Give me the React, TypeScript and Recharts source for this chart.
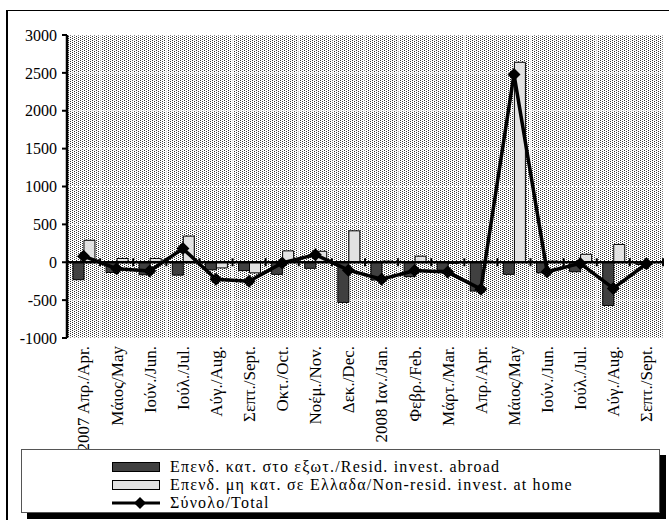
import {
  Bar,
  CartesianGrid,
  ComposedChart,
  Line,
  ReferenceLine,
  XAxis,
  YAxis,
} from "recharts"

const MONTHS = [
  "2007 Απρ./Apr.",
  "Μάιος/May",
  "Ιούν./Jun.",
  "Ιούλ./Jul.",
  "Αύγ./Aug.",
  "Σεπτ./Sept.",
  "Οκτ./Oct.",
  "Νοέμ./Nov.",
  "Δεκ./Dec.",
  "2008 Ιαν./Jan.",
  "Φεβρ./Feb.",
  "Μάρτ./Mar.",
  "Απρ./Apr.",
  "Μάιος/May",
  "Ιούν./Jun.",
  "Ιούλ./Jul.",
  "Αύγ./Aug.",
  "Σεπτ./Sept.",
]

// residents' investment abroad
const ABROAD = [-230, -135, -165, -170, -100, -110, -160, -80, -530, -235, -190, -105, -380, -160, -140, -125, -570, -30]
// non-residents' investment at home
const AT_HOME = [290, 50, 50, 345, -75, -140, 150, 145, 415, 15, 80, -15, 15, 2640, 15, 105, 235, 5]
const TOTAL = [80, -85, -115, 180, -225, -250, -10, 100, -105, -225, -110, -130, -355, 2480, -125, -15, -345, -20]

const Y_TICKS = [-1000, -500, 0, 500, 1000, 1500, 2000, 2500, 3000]

const LEGEND_ABROAD = "Επενδ. κατ. στο εξωτ./Resid. invest. abroad"
const LEGEND_HOME = "Επενδ. μη κατ. σε Ελλαδα/Non-resid. invest. at home"
const LEGEND_TOTAL = "Σύνολο/Total"

const SERIF = "'Liberation Serif', 'Times New Roman', serif"

const data = MONTHS.map((month, i) => ({
  month,
  abroad: ABROAD[i],
  home: AT_HOME[i],
  total: TOTAL[i],
}))

function MonthTick({ x, y, payload }: any) {
  return (
    <text
      x={x}
      y={y}
      transform={`rotate(-90 ${x} ${y})`}
      textAnchor="end"
      dy="0.35em"
      fontFamily={SERIF}
      fontSize={17}
      fill="#000"
    >
      {payload.value}
    </text>
  )
}

// the x axis crosses at zero, with tick marks between the months
function ZeroAxis(props: any) {
  const { x1, y1, x2 } = props
  const n = MONTHS.length
  const step = (x2 - x1) / n
  return (
    <g>
      <line x1={x1} y1={y1} x2={x2} y2={y1} stroke="#000" strokeWidth={2.5} />
      {Array.from({ length: n + 1 }).map((_, i) => (
        <line
          key={i}
          x1={x1 + i * step}
          x2={x1 + i * step}
          y1={y1 - 4}
          y2={y1 + 4}
          stroke="#000"
          strokeWidth={2}
        />
      ))}
    </g>
  )
}

function Diamond({ cx, cy }: any) {
  if (cx == null || cy == null) return null
  const r = 6.5
  return (
    <polygon
      points={`${cx},${cy - r} ${cx + r},${cy} ${cx},${cy + r} ${cx - r},${cy}`}
      fill="#000"
    />
  )
}

function LegendRow({ swatch, label }: { swatch: React.ReactNode; label: string }) {
  return (
    <div style={{ display: "flex", alignItems: "center", height: 18 }}>
      <div style={{ width: 48, marginLeft: 90, marginRight: 10, display: "flex", alignItems: "center" }}>
        {swatch}
      </div>
      <span
        style={{
          fontFamily: SERIF,
          fontSize: 16,
          lineHeight: "18px",
          letterSpacing: 1.2,
          whiteSpace: "nowrap",
        }}
      >
        {label}
      </span>
    </div>
  )
}

export default function App() {
  return (
    <div style={{ position: "absolute", left: 0, top: 0, width: 669, height: 520, overflow: "hidden", background: "#fff" }}>
      <div
        style={{
          position: "absolute",
          left: 6,
          top: 10,
          width: 700,
          height: 600,
          borderTop: "1.5px solid #000",
          borderLeft: "2px solid #000",
        }}
      />
      <ComposedChart
        width={669}
        height={520}
        data={data}
        margin={{ top: 35, right: 6, left: 0, bottom: 72 }}
        barCategoryGap="18%"
        barGap={0}
        style={{ position: "absolute", left: 0, top: 0 }}
      >
        <defs>
          <pattern id="dots" width={4} height={2} patternUnits="userSpaceOnUse">
            <rect width={4} height={2} fill="#fff" />
            <rect x={0} y={0} width={1} height={1} fill="#333" />
            <rect x={2} y={1} width={1} height={1} fill="#333" />
          </pattern>
        </defs>
        <CartesianGrid
          fill="url(#dots)"
          stroke="#fff"
          strokeOpacity={0.8}
          verticalCoordinatesGenerator={({ offset }: any) =>
            Array.from({ length: MONTHS.length + 1 }).map(
              (_, i) => offset.left + (i * offset.width) / MONTHS.length
            )
          }
        />
        <XAxis
          dataKey="month"
          interval={0}
          height={110}
          tickLine={false}
          axisLine={false}
          tick={<MonthTick />}
        />
        <YAxis
          domain={[-1000, 3000]}
          ticks={Y_TICKS}
          width={67}
          tickSize={5}
          tickMargin={5}
          axisLine={{ stroke: "#000", strokeWidth: 2.5 }}
          tickLine={{ stroke: "#000", strokeWidth: 2 }}
          tick={{ fontFamily: SERIF, fontSize: 16, fill: "#000" }}
        />
        <Bar dataKey="abroad" fill="#404040" stroke="#000" strokeWidth={1} isAnimationActive={false} />
        <Bar dataKey="home" fill="#e2e2e2" stroke="#000" strokeWidth={1} isAnimationActive={false} />
        <ReferenceLine y={0} shape={<ZeroAxis />} />
        <Line
          dataKey="total"
          stroke="#000"
          strokeWidth={3.5}
          dot={<Diamond />}
          activeDot={false}
          isAnimationActive={false}
        />
      </ComposedChart>

      <div
        style={{
          position: "absolute",
          left: 21,
          top: 449,
          width: 639,
          height: 64,
          boxSizing: "border-box",
          border: "1.5px solid #555",
          background: "#fff",
          boxShadow: "6px 6px 0 #000",
          paddingTop: 8,
        }}
      >
        <LegendRow
          label={LEGEND_ABROAD}
          swatch={<div style={{ width: 48, height: 10, boxSizing: "border-box", border: "1.5px solid #000", background: "#404040" }} />}
        />
        <LegendRow
          label={LEGEND_HOME}
          swatch={<div style={{ width: 48, height: 10, boxSizing: "border-box", border: "1.5px solid #000", background: "#e2e2e2" }} />}
        />
        <LegendRow
          label={LEGEND_TOTAL}
          swatch={
            <svg width={48} height={14}>
              <line x1={0} y1={7} x2={48} y2={7} stroke="#000" strokeWidth={3} />
              <polygon points="28,1 34,7 28,13 22,7" fill="#000" />
            </svg>
          }
        />
      </div>
    </div>
  )
}
